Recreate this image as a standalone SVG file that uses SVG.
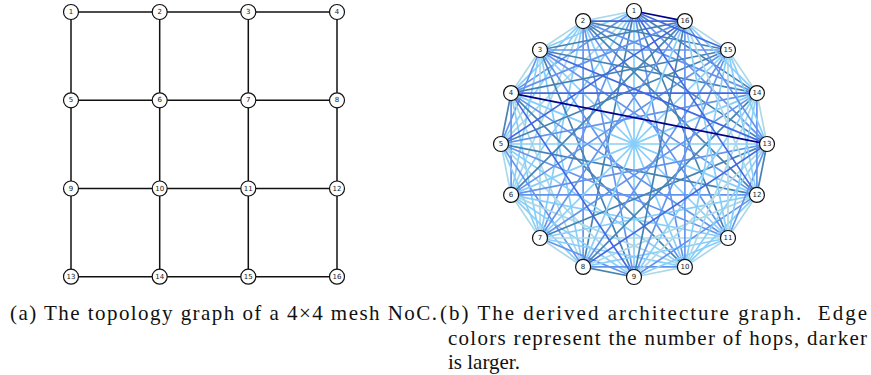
<svg xmlns="http://www.w3.org/2000/svg" width="871" height="375" viewBox="0 0 871 375">
<style>
.mesh line{stroke:#111;stroke-width:1.5}
.arch line{stroke-width:1.7;fill:none}
.h1{stroke:#add8e6}.h2{stroke:#87cefa}.h3{stroke:#6495ed}.h4{stroke:#4682b4}.h5{stroke:#4169e1}.h6{stroke:#00008b}
.node circle{fill:#fff;stroke:#111;stroke-width:1.2}
.node text{font-family:"DejaVu Sans",sans-serif;font-size:7px;fill:#222;text-anchor:middle;dominant-baseline:central}
.cap{font-family:"Liberation Serif",serif;font-size:21px;fill:#111}
</style>
<rect width="871" height="375" fill="#fff"/>
<g id="mesh-connectors" class="mesh">
<line x1="71" y1="12" x2="337" y2="12"/>
<line x1="71" y1="100.3" x2="337" y2="100.3"/>
<line x1="71" y1="188.5" x2="337" y2="188.5"/>
<line x1="71" y1="276.7" x2="337" y2="276.7"/>
<line x1="71" y1="12" x2="71" y2="276.7"/>
<line x1="159.7" y1="12" x2="159.7" y2="276.7"/>
<line x1="248.3" y1="12" x2="248.3" y2="276.7"/>
<line x1="337" y1="12" x2="337" y2="276.7"/>
</g>
<g id="mesh-n1" class="node"><circle cx="71" cy="12" r="7.5"/><text x="71" y="12">1</text></g>
<g id="mesh-n2" class="node"><circle cx="159.7" cy="12" r="7.5"/><text x="159.7" y="12">2</text></g>
<g id="mesh-n3" class="node"><circle cx="248.3" cy="12" r="7.5"/><text x="248.3" y="12">3</text></g>
<g id="mesh-n4" class="node"><circle cx="337" cy="12" r="7.5"/><text x="337" y="12">4</text></g>
<g id="mesh-n5" class="node"><circle cx="71" cy="100.3" r="7.5"/><text x="71" y="100.3">5</text></g>
<g id="mesh-n6" class="node"><circle cx="159.7" cy="100.3" r="7.5"/><text x="159.7" y="100.3">6</text></g>
<g id="mesh-n7" class="node"><circle cx="248.3" cy="100.3" r="7.5"/><text x="248.3" y="100.3">7</text></g>
<g id="mesh-n8" class="node"><circle cx="337" cy="100.3" r="7.5"/><text x="337" y="100.3">8</text></g>
<g id="mesh-n9" class="node"><circle cx="71" cy="188.5" r="7.5"/><text x="71" y="188.5">9</text></g>
<g id="mesh-n10" class="node"><circle cx="159.7" cy="188.5" r="7.5"/><text x="159.7" y="188.5">10</text></g>
<g id="mesh-n11" class="node"><circle cx="248.3" cy="188.5" r="7.5"/><text x="248.3" y="188.5">11</text></g>
<g id="mesh-n12" class="node"><circle cx="337" cy="188.5" r="7.5"/><text x="337" y="188.5">12</text></g>
<g id="mesh-n13" class="node"><circle cx="71" cy="276.7" r="7.5"/><text x="71" y="276.7">13</text></g>
<g id="mesh-n14" class="node"><circle cx="159.7" cy="276.7" r="7.5"/><text x="159.7" y="276.7">14</text></g>
<g id="mesh-n15" class="node"><circle cx="248.3" cy="276.7" r="7.5"/><text x="248.3" y="276.7">15</text></g>
<g id="mesh-n16" class="node"><circle cx="337" cy="276.7" r="7.5"/><text x="337" y="276.7">16</text></g>

<g id="arch-connectors" class="arch">
<line class="h1" x1="634" y1="11" x2="583.1" y2="21.1"/>
<line class="h2" x1="634" y1="11" x2="540" y2="50"/>
<line class="h3" x1="634" y1="11" x2="511.1" y2="93.1"/>
<line class="h1" x1="634" y1="11" x2="501" y2="144"/>
<line class="h2" x1="634" y1="11" x2="511.1" y2="194.9"/>
<line class="h3" x1="634" y1="11" x2="540" y2="238"/>
<line class="h4" x1="634" y1="11" x2="583.1" y2="266.9"/>
<line class="h2" x1="634" y1="11" x2="634" y2="277"/>
<line class="h3" x1="634" y1="11" x2="684.9" y2="266.9"/>
<line class="h4" x1="634" y1="11" x2="728" y2="238"/>
<line class="h3" x1="634" y1="11" x2="767" y2="144"/>
<line class="h4" x1="634" y1="11" x2="756.9" y2="93.1"/>
<line class="h1" x1="583.1" y1="21.1" x2="540" y2="50"/>
<line class="h2" x1="583.1" y1="21.1" x2="511.1" y2="93.1"/>
<line class="h2" x1="583.1" y1="21.1" x2="501" y2="144"/>
<line class="h1" x1="583.1" y1="21.1" x2="511.1" y2="194.9"/>
<line class="h2" x1="583.1" y1="21.1" x2="540" y2="238"/>
<line class="h3" x1="583.1" y1="21.1" x2="583.1" y2="266.9"/>
<line class="h3" x1="583.1" y1="21.1" x2="634" y2="277"/>
<line class="h2" x1="583.1" y1="21.1" x2="684.9" y2="266.9"/>
<line class="h3" x1="583.1" y1="21.1" x2="728" y2="238"/>
<line class="h4" x1="583.1" y1="21.1" x2="756.9" y2="194.9"/>
<line class="h4" x1="583.1" y1="21.1" x2="767" y2="144"/>
<line class="h3" x1="583.1" y1="21.1" x2="756.9" y2="93.1"/>
<line class="h4" x1="583.1" y1="21.1" x2="728" y2="50"/>
<line class="h1" x1="540" y1="50" x2="511.1" y2="93.1"/>
<line class="h3" x1="540" y1="50" x2="501" y2="144"/>
<line class="h2" x1="540" y1="50" x2="511.1" y2="194.9"/>
<line class="h1" x1="540" y1="50" x2="540" y2="238"/>
<line class="h2" x1="540" y1="50" x2="583.1" y2="266.9"/>
<line class="h4" x1="540" y1="50" x2="634" y2="277"/>
<line class="h3" x1="540" y1="50" x2="684.9" y2="266.9"/>
<line class="h2" x1="540" y1="50" x2="728" y2="238"/>
<line class="h3" x1="540" y1="50" x2="756.9" y2="194.9"/>
<line class="h4" x1="540" y1="50" x2="756.9" y2="93.1"/>
<line class="h3" x1="540" y1="50" x2="728" y2="50"/>
<line class="h4" x1="540" y1="50" x2="684.9" y2="21.1"/>
<line class="h4" x1="511.1" y1="93.1" x2="501" y2="144"/>
<line class="h3" x1="511.1" y1="93.1" x2="511.1" y2="194.9"/>
<line class="h2" x1="511.1" y1="93.1" x2="540" y2="238"/>
<line class="h1" x1="511.1" y1="93.1" x2="583.1" y2="266.9"/>
<line class="h4" x1="511.1" y1="93.1" x2="684.9" y2="266.9"/>
<line class="h3" x1="511.1" y1="93.1" x2="728" y2="238"/>
<line class="h2" x1="511.1" y1="93.1" x2="756.9" y2="194.9"/>
<line class="h4" x1="511.1" y1="93.1" x2="728" y2="50"/>
<line class="h3" x1="511.1" y1="93.1" x2="684.9" y2="21.1"/>
<line class="h1" x1="501" y1="144" x2="511.1" y2="194.9"/>
<line class="h2" x1="501" y1="144" x2="540" y2="238"/>
<line class="h3" x1="501" y1="144" x2="583.1" y2="266.9"/>
<line class="h1" x1="501" y1="144" x2="634" y2="277"/>
<line class="h2" x1="501" y1="144" x2="684.9" y2="266.9"/>
<line class="h3" x1="501" y1="144" x2="728" y2="238"/>
<line class="h4" x1="501" y1="144" x2="756.9" y2="194.9"/>
<line class="h2" x1="501" y1="144" x2="767" y2="144"/>
<line class="h3" x1="501" y1="144" x2="756.9" y2="93.1"/>
<line class="h4" x1="501" y1="144" x2="728" y2="50"/>
<line class="h1" x1="511.1" y1="194.9" x2="540" y2="238"/>
<line class="h2" x1="511.1" y1="194.9" x2="583.1" y2="266.9"/>
<line class="h2" x1="511.1" y1="194.9" x2="634" y2="277"/>
<line class="h1" x1="511.1" y1="194.9" x2="684.9" y2="266.9"/>
<line class="h2" x1="511.1" y1="194.9" x2="728" y2="238"/>
<line class="h3" x1="511.1" y1="194.9" x2="756.9" y2="194.9"/>
<line class="h3" x1="511.1" y1="194.9" x2="767" y2="144"/>
<line class="h2" x1="511.1" y1="194.9" x2="756.9" y2="93.1"/>
<line class="h3" x1="511.1" y1="194.9" x2="728" y2="50"/>
<line class="h4" x1="511.1" y1="194.9" x2="684.9" y2="21.1"/>
<line class="h1" x1="540" y1="238" x2="583.1" y2="266.9"/>
<line class="h3" x1="540" y1="238" x2="634" y2="277"/>
<line class="h2" x1="540" y1="238" x2="684.9" y2="266.9"/>
<line class="h1" x1="540" y1="238" x2="728" y2="238"/>
<line class="h2" x1="540" y1="238" x2="756.9" y2="194.9"/>
<line class="h4" x1="540" y1="238" x2="767" y2="144"/>
<line class="h3" x1="540" y1="238" x2="756.9" y2="93.1"/>
<line class="h2" x1="540" y1="238" x2="728" y2="50"/>
<line class="h3" x1="540" y1="238" x2="684.9" y2="21.1"/>
<line class="h4" x1="583.1" y1="266.9" x2="634" y2="277"/>
<line class="h3" x1="583.1" y1="266.9" x2="684.9" y2="266.9"/>
<line class="h2" x1="583.1" y1="266.9" x2="728" y2="238"/>
<line class="h1" x1="583.1" y1="266.9" x2="756.9" y2="194.9"/>
<line class="h4" x1="583.1" y1="266.9" x2="756.9" y2="93.1"/>
<line class="h3" x1="583.1" y1="266.9" x2="728" y2="50"/>
<line class="h2" x1="583.1" y1="266.9" x2="684.9" y2="21.1"/>
<line class="h1" x1="634" y1="277" x2="684.9" y2="266.9"/>
<line class="h2" x1="634" y1="277" x2="728" y2="238"/>
<line class="h3" x1="634" y1="277" x2="756.9" y2="194.9"/>
<line class="h1" x1="634" y1="277" x2="767" y2="144"/>
<line class="h2" x1="634" y1="277" x2="756.9" y2="93.1"/>
<line class="h3" x1="634" y1="277" x2="728" y2="50"/>
<line class="h4" x1="634" y1="277" x2="684.9" y2="21.1"/>
<line class="h1" x1="684.9" y1="266.9" x2="728" y2="238"/>
<line class="h2" x1="684.9" y1="266.9" x2="756.9" y2="194.9"/>
<line class="h2" x1="684.9" y1="266.9" x2="767" y2="144"/>
<line class="h1" x1="684.9" y1="266.9" x2="756.9" y2="93.1"/>
<line class="h2" x1="684.9" y1="266.9" x2="728" y2="50"/>
<line class="h3" x1="684.9" y1="266.9" x2="684.9" y2="21.1"/>
<line class="h1" x1="728" y1="238" x2="756.9" y2="194.9"/>
<line class="h3" x1="728" y1="238" x2="767" y2="144"/>
<line class="h2" x1="728" y1="238" x2="756.9" y2="93.1"/>
<line class="h1" x1="728" y1="238" x2="728" y2="50"/>
<line class="h2" x1="728" y1="238" x2="684.9" y2="21.1"/>
<line class="h4" x1="756.9" y1="194.9" x2="767" y2="144"/>
<line class="h3" x1="756.9" y1="194.9" x2="756.9" y2="93.1"/>
<line class="h2" x1="756.9" y1="194.9" x2="728" y2="50"/>
<line class="h1" x1="756.9" y1="194.9" x2="684.9" y2="21.1"/>
<line class="h1" x1="767" y1="144" x2="756.9" y2="93.1"/>
<line class="h2" x1="767" y1="144" x2="728" y2="50"/>
<line class="h3" x1="767" y1="144" x2="684.9" y2="21.1"/>
<line class="h1" x1="756.9" y1="93.1" x2="728" y2="50"/>
<line class="h2" x1="756.9" y1="93.1" x2="684.9" y2="21.1"/>
<line class="h1" x1="728" y1="50" x2="684.9" y2="21.1"/>
<line class="h5" x1="634" y1="11" x2="756.9" y2="194.9"/>
<line class="h5" x1="634" y1="11" x2="728" y2="50"/>
<line class="h5" x1="583.1" y1="21.1" x2="684.9" y2="21.1"/>
<line class="h5" x1="540" y1="50" x2="767" y2="144"/>
<line class="h5" x1="511.1" y1="93.1" x2="634" y2="277"/>
<line class="h5" x1="511.1" y1="93.1" x2="756.9" y2="93.1"/>
<line class="h5" x1="501" y1="144" x2="684.9" y2="21.1"/>
<line class="h5" x1="583.1" y1="266.9" x2="767" y2="144"/>
<line class="h6" x1="634" y1="11" x2="684.9" y2="21.1"/>
<line class="h6" x1="511.1" y1="93.1" x2="767" y2="144"/>
</g>
<g id="arch-n1" class="node"><circle cx="634" cy="11" r="7.5"/><text x="634" y="11">1</text></g>
<g id="arch-n2" class="node"><circle cx="583.1" cy="21.1" r="7.5"/><text x="583.1" y="21.1">2</text></g>
<g id="arch-n3" class="node"><circle cx="540" cy="50" r="7.5"/><text x="540" y="50">3</text></g>
<g id="arch-n4" class="node"><circle cx="511.1" cy="93.1" r="7.5"/><text x="511.1" y="93.1">4</text></g>
<g id="arch-n5" class="node"><circle cx="501" cy="144" r="7.5"/><text x="501" y="144">5</text></g>
<g id="arch-n6" class="node"><circle cx="511.1" cy="194.9" r="7.5"/><text x="511.1" y="194.9">6</text></g>
<g id="arch-n7" class="node"><circle cx="540" cy="238" r="7.5"/><text x="540" y="238">7</text></g>
<g id="arch-n8" class="node"><circle cx="583.1" cy="266.9" r="7.5"/><text x="583.1" y="266.9">8</text></g>
<g id="arch-n9" class="node"><circle cx="634" cy="277" r="7.5"/><text x="634" y="277">9</text></g>
<g id="arch-n10" class="node"><circle cx="684.9" cy="266.9" r="7.5"/><text x="684.9" y="266.9">10</text></g>
<g id="arch-n11" class="node"><circle cx="728" cy="238" r="7.5"/><text x="728" y="238">11</text></g>
<g id="arch-n12" class="node"><circle cx="756.9" cy="194.9" r="7.5"/><text x="756.9" y="194.9">12</text></g>
<g id="arch-n13" class="node"><circle cx="767" cy="144" r="7.5"/><text x="767" y="144">13</text></g>
<g id="arch-n14" class="node"><circle cx="756.9" cy="93.1" r="7.5"/><text x="756.9" y="93.1">14</text></g>
<g id="arch-n15" class="node"><circle cx="728" cy="50" r="7.5"/><text x="728" y="50">15</text></g>
<g id="arch-n16" class="node"><circle cx="684.9" cy="21.1" r="7.5"/><text x="684.9" y="21.1">16</text></g>

<g id="captions">
<text class="cap" x="10" y="320" textLength="427" lengthAdjust="spacing">(a) The topology graph of a 4×4 mesh NoC.</text>
<text class="cap" x="440" y="320" textLength="427" lengthAdjust="spacing">(b) The derived architecture graph.&#160; Edge</text>
<text class="cap" x="448" y="345" textLength="419" lengthAdjust="spacing">colors represent the number of hops, darker</text>
<text class="cap" x="448" y="369">is larger.</text>
</g>
</svg>
